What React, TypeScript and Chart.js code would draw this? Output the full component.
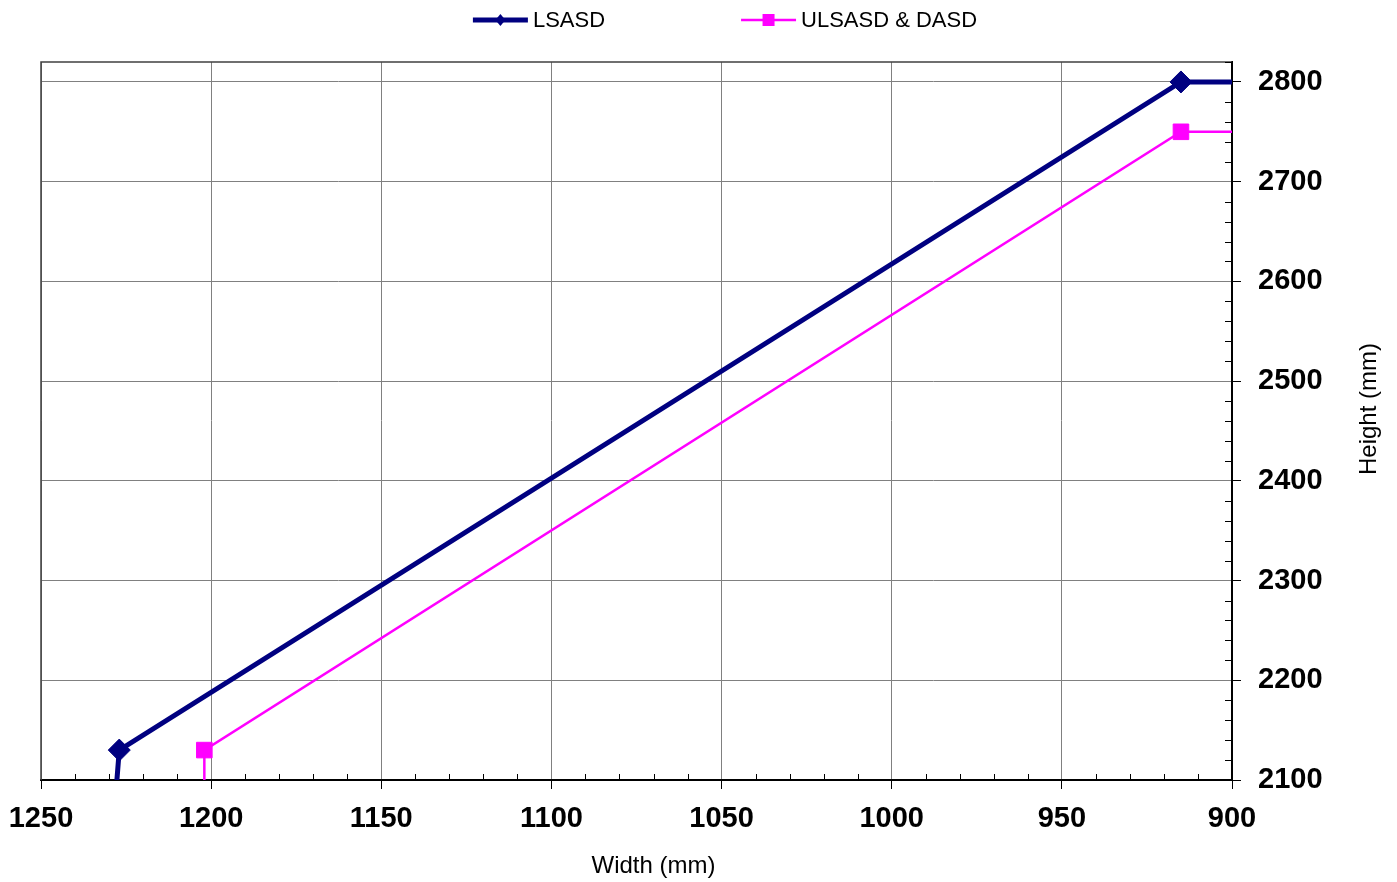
import React, { useEffect, useRef } from 'react';
import { Chart, registerables } from 'chart.js';

Chart.register(...registerables);

// ---- data ----
const seriesNames = ['LSASD', 'ULSASD & DASD'];
const lsasdWidth = [1230, 1227, 915, 800];
const lsasdHeight = [2000, 2130, 2800, 2800];
const ulsasdWidth = [1202, 1202, 915, 800];
const ulsasdHeight = [2000, 2130, 2750, 2750];
const xTickValues = [1250, 1200, 1150, 1100, 1050, 1000, 950, 900];
const yTickValues = [2100, 2200, 2300, 2400, 2500, 2600, 2700, 2800];
const xTitle = 'Width (mm)';
const yTitle = 'Height (mm)';

const FONT = 'Arial, "Liberation Sans", sans-serif';
const NAVY = '#000080';
const MAGENTA = '#FF00FF';

const decorPlugin = {
  id: 'decor',
  afterDraw(chart: any) {
    const ctx = chart.ctx;
    const ca = chart.chartArea;
    const xs = chart.scales.x;
    const ys = chart.scales.y;
    ctx.save();
    // plot area border (top and left)
    ctx.strokeStyle = '#404040';
    ctx.lineWidth = 1.5;
    ctx.beginPath();
    ctx.moveTo(ca.left, ca.bottom);
    ctx.lineTo(ca.left, ca.top);
    ctx.lineTo(ca.right, ca.top);
    ctx.stroke();
    // minor ticks
    ctx.strokeStyle = '#000';
    ctx.lineWidth = 1;
    ctx.beginPath();
    for (let v = 900; v <= 1250; v += 10) {
      if (v % 50 === 0) continue;
      const px = Math.round(xs.getPixelForValue(v)) + 0.5;
      ctx.moveTo(px, ca.bottom);
      ctx.lineTo(px, ca.bottom - 6);
    }
    for (let v = 2100; v <= 2820; v += 20) {
      if (v % 100 === 0) continue;
      const py = Math.round(ys.getPixelForValue(v)) + 0.5;
      ctx.moveTo(ca.right, py);
      ctx.lineTo(ca.right - 7, py);
    }
    ctx.stroke();

    // axis titles
    ctx.fillStyle = '#000';
    ctx.font = `24px ${FONT}`;
    ctx.textAlign = 'center';
    ctx.textBaseline = 'middle';
    ctx.fillText(xTitle, (ca.left + ca.right) / 2 + 17, 866);
    ctx.save();
    ctx.translate(1369, (ca.top + ca.bottom) / 2 - 12);
    ctx.rotate(-Math.PI / 2);
    ctx.fillText(yTitle, 0, 0);
    ctx.restore();

    // legend
    ctx.font = `22px ${FONT}`;
    ctx.textAlign = 'left';
    const lineLen = 55;
    const gapText = 5;
    const gapItems = 136;
    const items = chart.data.datasets.map((ds: any) => ({
      ds,
      w: lineLen + gapText + ctx.measureText(ds.label).width,
    }));
    const total = items.reduce((a: number, it: any) => a + it.w, 0) + gapItems * (items.length - 1);
    let x = 725 - total / 2;
    const ly = 20;
    items.forEach((it: any) => {
      const ds = it.ds;
      ctx.strokeStyle = ds.borderColor;
      ctx.lineWidth = ds.legendLineWidth;
      ctx.beginPath();
      ctx.moveTo(x, ly);
      ctx.lineTo(x + lineLen, ly);
      ctx.stroke();
      const cx = x + lineLen / 2;
      ctx.fillStyle = ds.pointBackgroundColor;
      ctx.beginPath();
      if (ds.pointStyle === 'rectRot') {
        ctx.moveTo(cx, ly - 6);
        ctx.lineTo(cx + 5, ly);
        ctx.lineTo(cx, ly + 6);
        ctx.lineTo(cx - 5, ly);
        ctx.closePath();
      } else {
        ctx.rect(cx - 6, ly - 6, 12, 12);
      }
      ctx.fill();
      ctx.fillStyle = '#000';
      ctx.fillText(ds.label, x + lineLen + gapText, ly + 1);
      x += it.w + gapItems;
    });
    ctx.restore();
  },
};

export default function App() {
  const ref = useRef<HTMLCanvasElement | null>(null);

  useEffect(() => {
    document.body.style.margin = '0';
    const canvas = ref.current;
    if (!canvas) return;
    const tickFont = { family: FONT, size: 29, weight: 'bold' as const };
    const chart = new Chart(canvas, {
      type: 'line',
      data: {
        datasets: [
          {
            label: seriesNames[0],
            data: lsasdWidth.map((w, i) => ({ x: w, y: lsasdHeight[i] })),
            borderColor: NAVY,
            backgroundColor: NAVY,
            borderWidth: 5,
            pointStyle: 'rectRot',
            pointRadius: 11,
            pointBorderWidth: 1,
            pointBackgroundColor: NAVY,
            pointBorderColor: NAVY,
            tension: 0,
            fill: false,
            legendLineWidth: 5,
          } as any,
          {
            label: seriesNames[1],
            data: ulsasdWidth.map((w, i) => ({ x: w, y: ulsasdHeight[i] })),
            borderColor: MAGENTA,
            backgroundColor: MAGENTA,
            borderWidth: 2.5,
            pointStyle: 'rect',
            pointRadius: 11,
            pointBorderWidth: 1,
            pointBackgroundColor: MAGENTA,
            pointBorderColor: MAGENTA,
            tension: 0,
            fill: false,
            legendLineWidth: 2.5,
          } as any,
        ],
      },
      options: {
        responsive: false,
        animation: false,
        events: [],
        layout: { padding: { left: 41, top: 62, right: 0, bottom: 0 } },
        plugins: {
          legend: { display: false },
          tooltip: { enabled: false },
          title: { display: false },
        },
        scales: {
          x: {
            type: 'linear',
            position: 'bottom',
            reverse: true,
            min: 900,
            max: 1250,
            afterBuildTicks: (s: any) => {
              s.ticks = xTickValues.map((v) => ({ value: v }));
            },
            afterFit: (s: any) => {
              s.height = 102;
              s.paddingLeft = 0;
              s.paddingRight = 0;
            },
            ticks: {
              font: tickFont,
              color: '#000',
              padding: 13,
              maxRotation: 0,
              autoSkip: false,
              callback: (v: any) => String(v),
            },
            grid: { color: '#808080', lineWidth: 1, tickLength: 9, tickColor: '#000' },
            border: { color: '#000', width: 2 },
          },
          y: {
            type: 'linear',
            position: 'right',
            min: 2100,
            max: 2820,
            afterBuildTicks: (s: any) => {
              s.ticks = yTickValues.map((v) => ({ value: v }));
            },
            afterFit: (s: any) => {
              s.width = 165;
              s.paddingTop = 0;
              s.paddingBottom = 0;
            },
            ticks: {
              font: tickFont,
              color: '#000',
              padding: 17,
              autoSkip: false,
              callback: (v: any) => String(v),
            },
            grid: { color: '#808080', lineWidth: 1, tickLength: 9, tickColor: '#000' },
            border: { color: '#000', width: 2 },
          },
        },
      } as any,
      plugins: [decorPlugin],
    });
    return () => chart.destroy();
  }, []);

  return (
    <div style={{ width: 1397, height: 882, background: '#fff' }}>
      <canvas ref={ref} width={1397} height={882} style={{ display: 'block' }} />
    </div>
  );
}
